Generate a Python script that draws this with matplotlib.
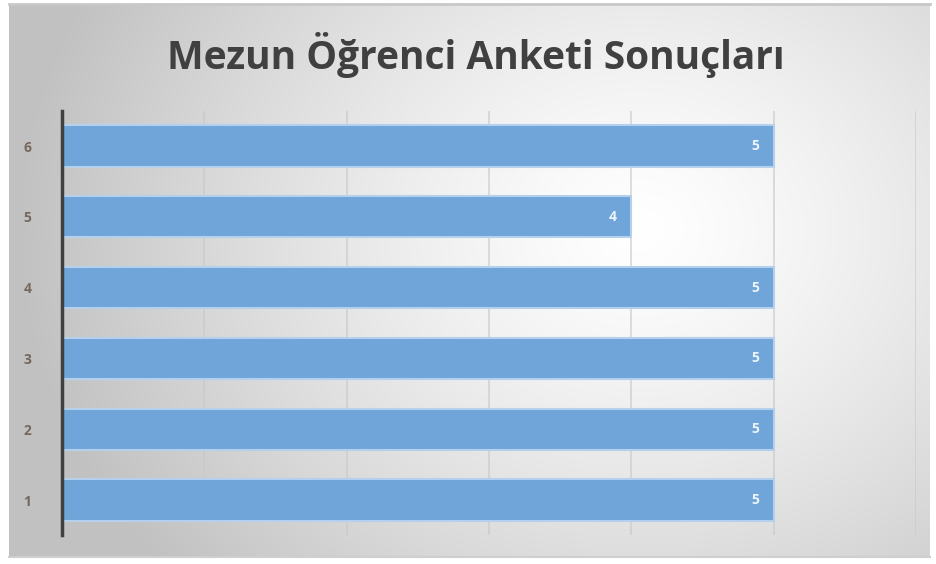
import numpy as np
import matplotlib
matplotlib.use("Agg")
import matplotlib.pyplot as plt

categories = ["1", "2", "3", "4", "5", "6"]
values = [5, 5, 5, 5, 4, 5]
title = "Mezun Öğrenci Anketi Sonuçları"

W, H = 936, 564
fig = plt.figure(figsize=(W / 100, H / 100), dpi=100)
fig.patch.set_facecolor("white")

# gradient background panel
bx0, by0, bx1, by1 = 9, 4, 930, 557
bg = fig.add_axes([bx0 / W, 1 - by1 / H, (bx1 - bx0) / W, (by1 - by0) / H])
nx, ny = 400, 240
xx, yy = np.meshgrid(np.linspace(bx0, bx1, nx), np.linspace(by0, by1, ny))
cx, cy = 640, 230
d = np.sqrt(((xx - cx) / 620) ** 2 + ((yy - cy) / 520) ** 2)
d = np.clip(d, 0, 1)
v = 1.0 - 0.24 * d ** 1.3
img = np.dstack([v, v, v])
bg.imshow(img, aspect="auto", extent=[0, 1, 0, 1], interpolation="bilinear")
bg.set_axis_off()
# frame lines
fig.add_artist(plt.Line2D([bx0 / W, bx1 / W], [1 - by0 / H] * 2, color="#c8c8c8", lw=2))
fig.add_artist(plt.Line2D([bx0 / W, bx1 / W], [1 - by1 / H] * 2, color="#cfcfcf", lw=1.5))

# main axes
x0px, x6px = 62, 916
ytop, ybot = 110.6, 535.4
ax = fig.add_axes([x0px / W, 1 - ybot / H, (x6px - x0px) / W, (ybot - ytop) / H])
ax.patch.set_alpha(0)
ypos = np.arange(len(categories))
bars = ax.barh(ypos, values, height=0.58, color="#6fa5d9", edgecolor="#b5d0ec",
               linewidth=1.5, zorder=2)
ax.set_xlim(0, 6)
ax.set_ylim(-0.5, 5.5)
ax.set_xticks(range(0, 7))
ax.xaxis.grid(True, color="#c8c8c8", lw=1.2, alpha=0.7, zorder=1)
ax.set_axisbelow(True)
ax.tick_params(axis="x", length=0, labelbottom=False)
ax.set_yticks(ypos)
ax.set_yticklabels(categories, color="#76685e", fontsize=10, fontweight="bold",
                   family=["Open Sans", "DejaVu Sans"])
ax.tick_params(axis="y", length=0, pad=22)
for s in ["top", "right", "bottom"]:
    ax.spines[s].set_visible(False)
ax.spines["left"].set_color("#404040")
ax.spines["left"].set_linewidth(2.5)
ax.spines["left"].set_zorder(5)
for b, v_ in zip(bars, values):
    ax.text(v_ - 0.1, b.get_y() + b.get_height() / 2, str(v_), ha="right", va="center",
            color="#eef4fb", fontsize=10, fontweight="bold",
            family=["Open Sans", "DejaVu Sans"], zorder=4)

fig.text(476 / W, 1 - 55 / H, title, ha="center", va="center", fontsize=28,
         fontweight="bold", color="#404040", family=["Open Sans", "DejaVu Sans"])

fig.savefig("out.png", dpi=100)
